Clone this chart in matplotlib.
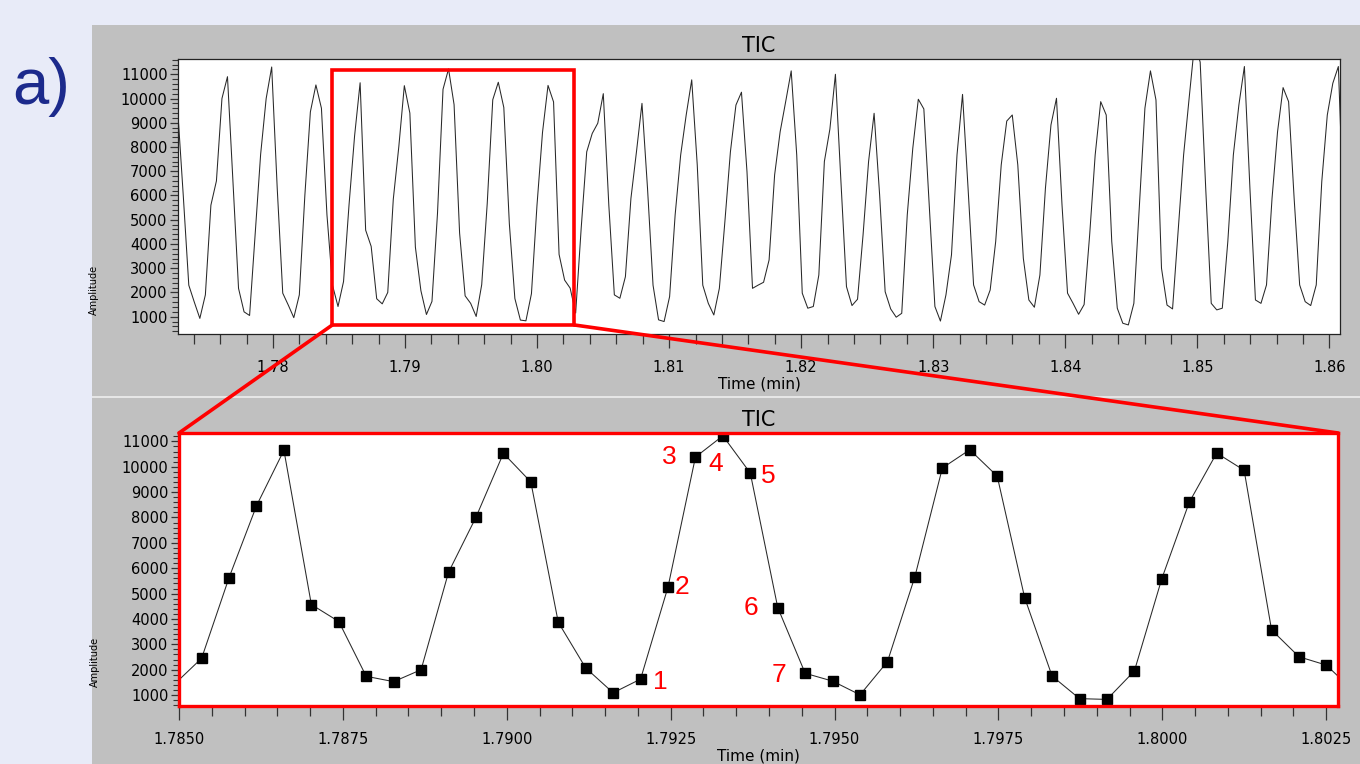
import numpy as np
import matplotlib
matplotlib.use("Agg")
import matplotlib.pyplot as plt
from matplotlib.patches import Rectangle, ConnectionPatch
from matplotlib.ticker import MultipleLocator, FormatStrFormatter

# scan timing (min) and TIC amplitude per scan
first_scan_time = 1.77279
scan_interval = 0.0004185
tic_amplitude = [
    9500, 6000, 2300, 1600, 930, 1900, 5600, 6600, 10000, 10900,
    6500, 2170, 1200, 1050, 4400, 7700, 10000, 11300, 6300, 1970,
    1480, 960, 1900, 6000, 9450, 10560, 9600, 5200, 2300, 1420,
    # zoomed part starts here
    2450, 5630, 8460, 10650, 4570, 3900, 1740, 1530, 2000, 5840,
    8010, 10530, 9400, 3870, 2070, 1090, 1630, 5260, 10380, 11220,
    9750, 4450, 1860, 1550, 1010, 2320, 5670, 9950, 10670, 9630,
    4840, 1750, 860, 830, 1950, 5590, 8600, 10540, 9860, 3570,
    2510, 2180,
    # after the zoomed part
    1150, 4650, 7800, 8560, 8980, 10200, 5600, 1900, 1760, 2650,
    5880, 7800, 9800, 6300, 2300, 870, 800, 1830, 5200, 7670,
    9320, 10770, 7260, 2300, 1550, 1070, 2170, 4920, 7800, 9730,
    10260, 6980, 2170, 2300, 2420, 3340, 6850, 8630, 9870, 11140,
    7670, 1970, 1350, 1420, 2720, 7400, 8740, 11000, 6570, 2240,
    1460, 1720, 4370, 7400, 9390, 6020, 2030, 1320, 980, 1140,
    5200, 7950, 9970, 9570, 5470, 1420, 820, 1900, 3550, 7670,
    10170, 6300, 2310, 1620, 1480, 2100, 4100, 7260, 9070, 9320,
    7260, 3410, 1690, 1390, 2720, 6300, 8910, 10010, 5610, 1970,
    1550, 1100, 1500, 4370, 7670, 9870, 9320, 4100, 1350, 730,
    660, 1550, 5610, 9600, 11140, 9940, 3000, 1480, 1320, 4510,
    7670, 10010, 12300, 11500, 6300, 1550, 1280, 1350, 4100, 7670,
    9730, 11320, 6300, 1690, 1550, 2310, 5880, 8630, 10450, 9870,
    5880, 2310, 1620, 1460, 2310, 6570, 9320, 10630, 11320, 5000,
]
# scans marked 1..7 in the zoom (index into tic_amplitude)
marked_scans = [46, 47, 48, 49, 50, 51, 52]
marked_labels = ["1", "2", "3", "4", "5", "6", "7"]
label_offsets = [(14, -2), (10, 0), (-19, 0), (-5, -20), (13, -2), (-19, 0), (-19, -1)]

scan_time = first_scan_time + scan_interval * np.arange(len(tic_amplitude))
amp = np.array(tic_amplitude, dtype=float)

W, H = 1360, 764
fig = plt.figure(figsize=(W / 100, H / 100), dpi=100)
fig.patch.set_facecolor("#E8EBF8")

# grey panels behind the two chromatograms
fig.add_artist(Rectangle((92 / W, 0), 1 - 92 / W, 1 - 25 / H, transform=fig.transFigure,
                         facecolor="#C0C0C0", edgecolor="none", zorder=-10))
fig.add_artist(Rectangle((92 / W, 1 - 397.5 / H), 1 - 92 / W, 2 / H, transform=fig.transFigure,
                         facecolor="#E6E6E6", edgecolor="none", zorder=-9))

fig.text(12 / W, 1 - 104 / H, "a)", fontsize=47, color="#1C2A8C", family="Liberation Sans",
         ha="left", va="baseline")

ax1 = fig.add_axes([178 / W, 1 - 334 / H, (1340 - 178) / W, (334 - 59) / H])
ax2 = fig.add_axes([179 / W, 1 - 706 / H, (1338 - 179) / W, (706 - 433) / H])

ax1.plot(scan_time, amp, color="#282828", lw=0.75)
ax1.set_xlim(1.77281, 1.8608)
ax1.set_ylim(286, 11630)
ax1.xaxis.set_major_locator(MultipleLocator(0.01))
ax1.xaxis.set_minor_locator(MultipleLocator(0.002))
ax1.xaxis.set_major_formatter(FormatStrFormatter("%.2f"))

ax2.plot(scan_time, amp, color="#282828", lw=0.75, marker="s", ms=7, mfc="black", mec="black")
ax2.set_xlim(1.7850, 1.80268)
ax2.set_ylim(570, 11330)
ax2.xaxis.set_major_locator(MultipleLocator(0.0025))
ax2.xaxis.set_minor_locator(MultipleLocator(0.0005))
ax2.xaxis.set_major_formatter(FormatStrFormatter("%.4f"))

for ax in (ax1, ax2):
    ax.set_facecolor("white")
    ax.yaxis.set_major_locator(MultipleLocator(1000))
    ax.yaxis.set_minor_locator(MultipleLocator(200))
    ax.tick_params(axis="x", which="major", length=10, width=0.9, pad=9, labelsize=10.5, color="#333333")
    ax.tick_params(axis="x", which="minor", length=7.5, width=0.9, color="#333333")
    ax.tick_params(axis="y", which="major", length=6, width=0.9, pad=1.5, labelsize=10.5, color="#333333")
    ax.tick_params(axis="y", which="minor", length=4.5, width=0.8, color="#333333")
    ax.set_title("TIC", fontsize=15, pad=5)
    ax.set_xlabel("Time (min)", fontsize=11, labelpad=0.5)
    ax.set_ylabel("Amplitude", fontsize=7)
    ax.yaxis.set_label_coords(-0.068, 0.16)
    for s in ax.spines.values():
        s.set_linewidth(0.9)
        s.set_color("#222222")

for s in ax2.spines.values():
    s.set_color("red")
    s.set_linewidth(2.4)
    s.set_zorder(5)

for idx, lab, off in zip(marked_scans, marked_labels, label_offsets):
    ax2.annotate(lab, (scan_time[idx], amp[idx]), xytext=off, textcoords="offset points",
                 ha="center", va="center", fontsize=19, color="red", family="Liberation Sans")

# zoom box on the overview and lines to the zoomed axes
bx0, bx1, by0, by1 = 1.7845, 1.8028, 660, 11180
ax1.add_patch(Rectangle((bx0, by0), bx1 - bx0, by1 - by0, fill=False, edgecolor="red",
                        lw=2.6, clip_on=False, zorder=6))
for xa, xb in ((bx0, 0), (bx1, 1)):
    con = ConnectionPatch(xyA=(xa, by0), coordsA=ax1.transData, xyB=(xb, 1), coordsB=ax2.transAxes,
                          color="red", lw=2.6, zorder=6)
    fig.add_artist(con)

fig.savefig("out.png", dpi=100, facecolor=fig.get_facecolor())
